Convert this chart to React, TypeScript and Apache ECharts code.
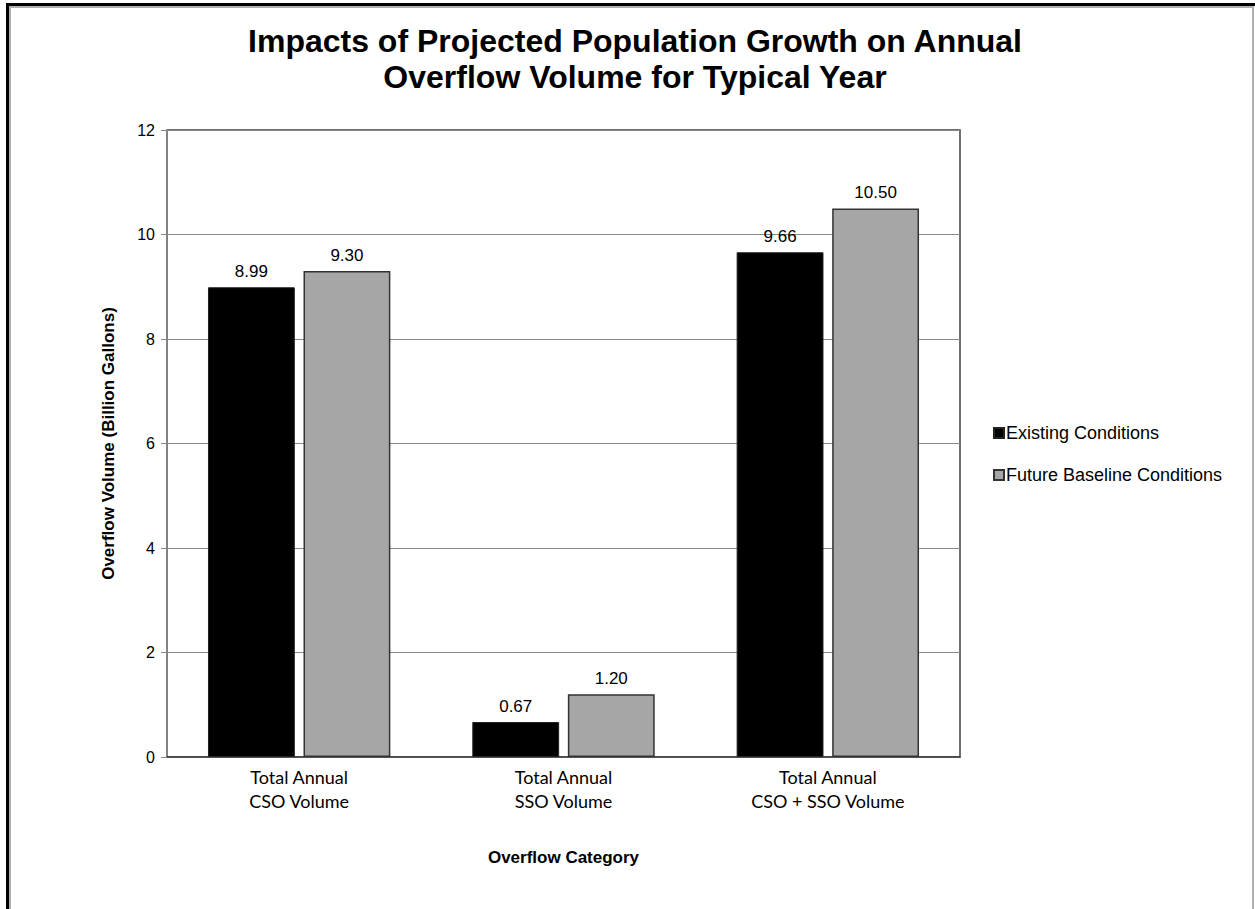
import React, { useEffect, useRef } from "react";
import * as echarts from "echarts";

const categories = ["Total Annual\nCSO Volume", "Total Annual\nSSO Volume", "Total Annual\nCSO + SSO Volume"];
const existing = [8.99, 0.67, 9.66];
const future = [9.3, 1.2, 10.5];
const seriesNames = ["Existing Conditions", "Future Baseline Conditions"];
const yTicks = { min: 0, max: 12, interval: 2 };

export default function App() {
  const ref = useRef<HTMLDivElement>(null);
  useEffect(() => {
    document.body.style.margin = "0";
    const chart = echarts.init(ref.current!, null, { renderer: "svg" });
    const labelStyle = {
      show: true,
      position: "top" as const,
      distance: 7,
      fontFamily: "Liberation Sans",
      fontSize: 17,
      color: "#000",
      formatter: (p: any) => p.value.toFixed(2),
    };
    chart.setOption({
      animation: false,
      backgroundColor: "#fff",
      title: {
        text: "Impacts of Projected Population Growth on Annual\nOverflow Volume for Typical Year",
        left: 630,
        top: 18,
        textAlign: "center",
        textStyle: {
          fontFamily: "Liberation Sans",
          fontWeight: "bold",
          fontSize: 32,
          lineHeight: 36,
          color: "#000",
        },
      },
      legend: {
        orient: "vertical",
        left: 993,
        top: 424,
        padding: 0,
        icon: "rect",
        itemWidth: 10,
        itemHeight: 10,
        itemGap: 24,
        data: seriesNames,
        textStyle: {
          fontFamily: "Liberation Sans",
          fontSize: 18,
          color: "#000",
          padding: [0, 0, 0, -3],
        },
      },
      grid: {
        left: 167,
        right: 295,
        top: 130,
        bottom: 152,
        show: true,
        borderColor: "#404040",
        borderWidth: 1.5,
      },
      xAxis: {
        type: "category",
        data: categories,
        name: "Overflow Category",
        nameLocation: "middle",
        nameGap: 92,
        nameTextStyle: {
          fontFamily: "Liberation Sans",
          fontWeight: "bold",
          fontSize: 17,
          color: "#000",
        },
        axisLine: { lineStyle: { color: "#404040", width: 1.5 } },
        axisTick: { show: false },
        axisLabel: {
          margin: 8,
          fontFamily: "Lato",
          fontSize: 18,
          lineHeight: 24,
          color: "#000",
        },
      },
      yAxis: {
        type: "value",
        min: yTicks.min,
        max: yTicks.max,
        interval: yTicks.interval,
        name: "Overflow Volume (Billion Gallons)",
        nameLocation: "middle",
        nameGap: 50,
        nameTextStyle: {
          fontFamily: "Liberation Sans",
          fontWeight: "bold",
          fontSize: 17,
          color: "#000",
        },
        axisLine: { show: true, lineStyle: { color: "#888", width: 1.5 } },
        axisTick: { show: true, length: 6, lineStyle: { color: "#888" } },
        axisLabel: {
          margin: 12,
          fontFamily: "Liberation Sans",
          fontSize: 16,
          color: "#000",
        },
        splitLine: { lineStyle: { color: "#888", width: 1 } },
      },
      series: [
        {
          name: seriesNames[0],
          type: "bar",
          data: existing,
          barGap: "10%",
          barCategoryGap: "31%",
          itemStyle: { color: "#000", borderColor: "#222", borderWidth: 1 },
          label: labelStyle,
        },
        {
          name: seriesNames[1],
          type: "bar",
          data: future,
          itemStyle: { color: "#a6a6a6", borderColor: "#333", borderWidth: 1.5 },
          label: labelStyle,
        },
      ],
      graphic: [
        { type: "rect", shape: { x: 6, y: 3, width: 3, height: 906 }, style: { fill: "#000" }, silent: true },
        { type: "rect", shape: { x: 6, y: 3, width: 1249, height: 3 }, style: { fill: "#000" }, silent: true },
        { type: "rect", shape: { x: 9, y: 6, width: 2, height: 903 }, style: { fill: "#b0b0b0" }, silent: true },
        { type: "rect", shape: { x: 9, y: 6, width: 1244, height: 2 }, style: { fill: "#b0b0b0" }, silent: true },
        { type: "rect", shape: { x: 1252, y: 6, width: 2, height: 903 }, style: { fill: "#b0b0b0" }, silent: true },
      ],
    });
    return () => chart.dispose();
  }, []);
  return <div ref={ref} style={{ position: "absolute", left: 0, top: 0, width: 1255, height: 909 }} />;
}
